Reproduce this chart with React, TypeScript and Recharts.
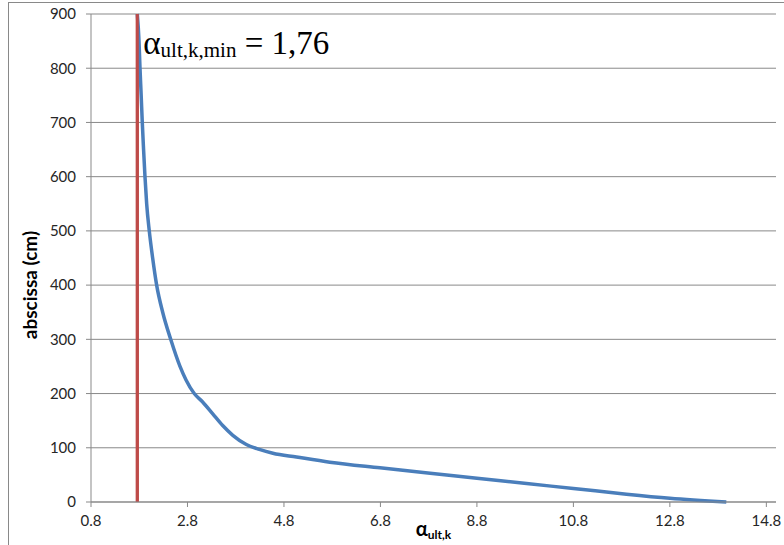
import { LineChart, Line, XAxis, YAxis, CartesianGrid, ReferenceLine } from "recharts";

// blue curve (alpha ascending)
const alpha = [
  1.76, 1.795, 1.816, 1.84, 1.863, 1.89, 1.919, 1.954, 2.008, 2.078, 2.161, 2.286, 2.452, 2.645, 2.77,
  2.94, 3.11, 3.32, 3.53, 3.74, 4.02, 4.29, 4.57, 5.06, 5.75, 6.79, 7.83, 8.8, 9.83, 10.8, 11.9, 12.8, 13.97,
];
const abscissa = [
  900, 850, 800, 750, 700, 650, 600, 550, 500, 450, 400, 350, 300, 250, 225,
  200, 185, 163, 141, 123, 106, 97, 90, 83, 73.5, 63, 53, 44, 34, 25, 14.3, 6.8, 0,
];

const alphaMin = 1.76;
const alphaMinLabel = "1,76";
const xTicks = [0.8, 2.8, 4.8, 6.8, 8.8, 10.8, 12.8, 14.8];
const yTicks = [0, 100, 200, 300, 400, 500, 600, 700, 800, 900];

const data = alpha.map((a, i) => ({ alpha: a, abscissa: abscissa[i] }));
// vertical red line at the minimum, drawn as a series so it sits over the curve
const minLine = [
  { alpha: alphaMin, abscissa: yTicks[0] },
  { alpha: alphaMin, abscissa: yTicks[yTicks.length - 1] },
];

const tickStyle = { fontFamily: "Lato, sans-serif", fontSize: 15, fill: "#262626" };
const gray = "#898989";
const red = "#be4b48";

function MinLabel({ viewBox }: any) {
  const x = viewBox.x + 6;
  const y = viewBox.y + 40;
  return (
    <text x={x} y={y} fontFamily="'Liberation Serif', serif" fontSize={33} fill="#000">
      <tspan>α</tspan>
      <tspan fontSize={21} dy={3}>ult,k,min</tspan>
      <tspan dy={-3}>{` = ${alphaMinLabel}`}</tspan>
    </text>
  );
}

function YTitle({ viewBox }: any) {
  const cx = viewBox.x + 29;
  const cy = viewBox.y + viewBox.height / 2 + 27;
  return (
    <text
      x={cx}
      y={cy}
      transform={`rotate(-90, ${cx}, ${cy})`}
      textAnchor="middle"
      dominantBaseline="central"
      fontFamily="Lato, sans-serif"
      fontWeight="bold"
      fontSize={19}
      fill="#000"
    >
      abscissa (cm)
    </text>
  );
}

function XTitle({ viewBox }: any) {
  const cx = viewBox.x + viewBox.width / 2;
  const y = viewBox.y + 34;
  return (
    <text x={cx} y={y} textAnchor="middle" fontFamily="Lato, sans-serif" fontWeight="bold" fill="#000">
      <tspan fontSize={20}>α</tspan>
      <tspan fontSize={12} dy={3}>ult,k</tspan>
    </text>
  );
}

export default function App() {
  return (
    <div style={{ position: "fixed", left: 0, top: 0, width: 784, height: 545, overflow: "hidden", background: "#fff" }}>
      <div
        style={{
          position: "absolute",
          left: 8,
          top: 2,
          width: 820,
          height: 600,
          border: `1px solid ${gray}`,
        }}
      />
      <div style={{ position: "absolute", left: 0, top: 0 }}>
        <LineChart width={784} height={545} data={data} margin={{ top: 14, right: 8, bottom: 0, left: 0 }}>
          <CartesianGrid vertical={false} stroke={gray} strokeWidth={1} />
          <XAxis
            type="number"
            dataKey="alpha"
            domain={[0.8, 15]}
            ticks={xTicks}
            interval={0}
            height={43}
            tick={tickStyle}
            tickSize={5}
            tickMargin={8}
            axisLine={{ stroke: gray }}
            tickLine={{ stroke: gray }}
            label={<XTitle />}
          />
          <YAxis
            type="number"
            domain={[0, 900]}
            ticks={yTicks}
            interval={0}
            width={91}
            tick={tickStyle}
            tickSize={5}
            tickMargin={10}
            axisLine={{ stroke: gray }}
            tickLine={{ stroke: gray }}
            label={<YTitle />}
          />
          <ReferenceLine x={alphaMin} stroke={red} strokeWidth={3} label={<MinLabel />} />
          <Line
            type="monotone"
            dataKey="abscissa"
            stroke="#4a7ebb"
            strokeWidth={3.5}
            dot={false}
            isAnimationActive={false}
          />
          <Line
            data={minLine}
            type="linear"
            dataKey="abscissa"
            stroke={red}
            strokeWidth={3}
            dot={false}
            activeDot={false}
            isAnimationActive={false}
          />
        </LineChart>
      </div>
    </div>
  );
}
